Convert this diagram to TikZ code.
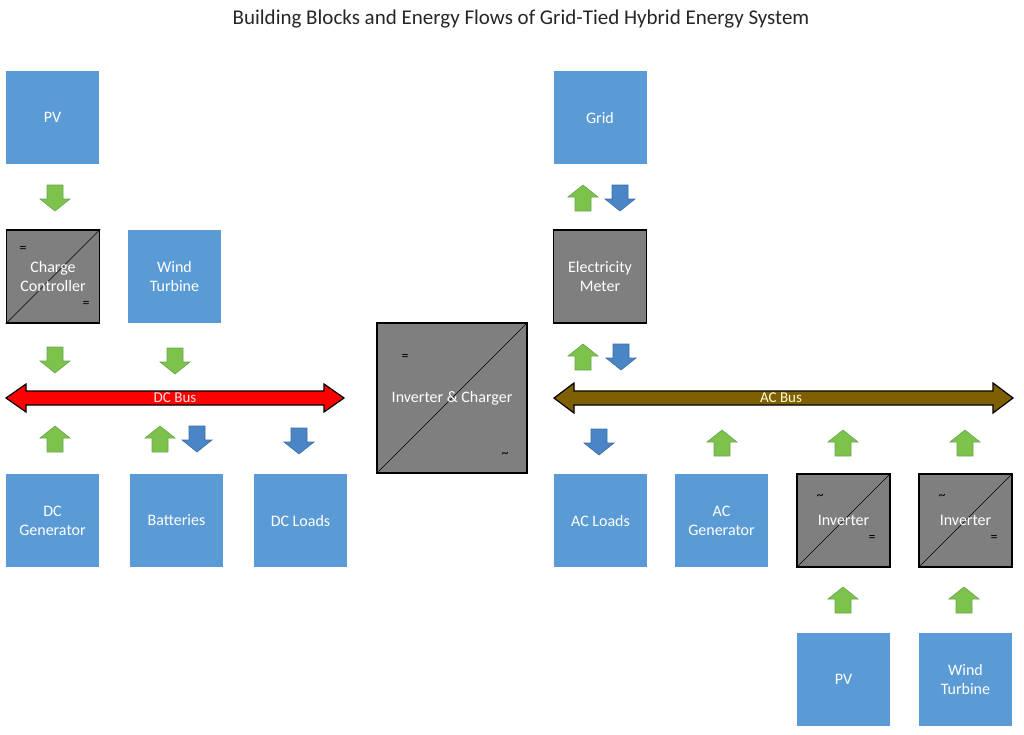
\documentclass[tikz,border=0pt]{standalone}
\usepackage{fontspec}
\setmainfont{Carlito}
\definecolor{boxblue}{HTML}{5B9BD5}
\definecolor{arrgreen}{HTML}{7DC24B}
\definecolor{arrgreenD}{HTML}{6AA84F}
\definecolor{arrblue}{HTML}{4A86C5}
\definecolor{arrblueD}{HTML}{3D6FA6}
\definecolor{boxgray}{HTML}{7F7F7F}
\definecolor{acbrown}{HTML}{7F6000}
\newcommand{\flowup}[3]{\filldraw[fill=#3,draw=#3D,line width=0.6pt] (#1-15,#2+12) -- (#1,#2) -- (#1+15,#2+12) -- (#1+8,#2+12) -- (#1+8,#2+26) -- (#1-8,#2+26) -- (#1-8,#2+12) -- cycle;}
\newcommand{\flowdown}[3]{\filldraw[fill=#3,draw=#3D,line width=0.6pt] (#1-15,#2+14) -- (#1,#2+26) -- (#1+15,#2+14) -- (#1+8,#2+14) -- (#1+8,#2) -- (#1-8,#2) -- (#1-8,#2+14) -- cycle;}
\begin{document}
\begin{tikzpicture}[x=1pt,y=-1pt,
  boxfont/.style={font=\fontsize{16}{19}\selectfont},
  bluebox/.style={fill=boxblue,draw=none,minimum width=93pt,minimum height=93pt,inner sep=0pt,text=white,boxfont,align=center},
  graybox/.style={fill=boxgray,draw=black,line width=1.6pt,minimum width=93pt,minimum height=93pt,inner sep=0pt,text=white,boxfont,align=center},
  lbl/.style={text=white,boxfont,align=center,inner sep=0pt},
  sym/.style={text=black,font=\fontsize{14}{14}\selectfont,inner sep=0pt},
  diag/.style={draw=black,line width=0.6pt}]
\useasboundingbox (0,0) rectangle (1024,734);
\fill[white] (0,0) rectangle (1024,734);
\node[font=\fontsize{21}{24}\selectfont,text=black!85] (title) at (521,19) {Building Blocks and Energy Flows of Grid-Tied Hybrid Energy System};

% left side boxes
\node[bluebox] (pv1) at (52.5,117.5) {PV};
\node[graybox] (cc) at (53,276.5) {};
\draw[diag] (cc.south west) -- (cc.north east);
\node[lbl] (cclabel) at (cc.center) {Charge\\Controller};
\node[sym] (cceq1) at (23,249) {=};
\node[sym] (cceq2) at (86,304) {=};
\node[bluebox] (wt1) at (174.5,276.5) {Wind\\Turbine};
\node[bluebox] (dcgen) at (52.5,520.5) {DC\\Generator};
\node[bluebox] (batt) at (176.5,520.5) {Batteries};
\node[bluebox] (dcload) at (300.5,520.5) {DC Loads};

% DC bus
\filldraw[fill=red,draw=black,line width=1.2pt] (6,398) -- (26,384) -- (26,391) -- (324,391) -- (324,384) -- (344,398) -- (324,412) -- (324,405) -- (26,405) -- (26,412) -- cycle;
\node[text=white!90!red,font=\fontsize{15}{16}\selectfont] (dcbus) at (175,398) {DC Bus};

% inverter & charger
\node[graybox,minimum width=150pt,minimum height=150pt] (ic) at (452,398) {};
\draw[diag] (ic.south west) -- (ic.north east);
\node[lbl] (iclabel) at (ic.center) {Inverter \& Charger};
\node[sym] (iceq) at (405,357) {=};
\node[sym] (ictilde) at (505,455) {\char"007E};

% right side
\node[bluebox] (grid) at (600,117.5) {Grid};
\node[graybox] (meter) at (600,276.5) {Electricity\\Meter};
\filldraw[fill=acbrown,draw=black,line width=1.2pt] (554,398) -- (574,383) -- (574,391) -- (993,391) -- (993,383) -- (1013,398) -- (993,413) -- (993,405) -- (574,405) -- (574,413) -- cycle;
\node[text=white!85!yellow,font=\fontsize{15}{16}\selectfont] (acbus) at (781,398) {AC Bus};
\node[bluebox] (acload) at (600.5,520.5) {AC Loads};
\node[bluebox] (acgen) at (721.5,520.5) {AC\\Generator};
\node[graybox] (inv1) at (843.5,520.5) {};
\draw[diag] (inv1.south west) -- (inv1.north east);
\node[lbl] (inv1label) at (inv1.center) {Inverter};
\node[sym] (inv1t) at (820,497) {\char"007E};
\node[sym] (inv1e) at (872,538) {=};
\node[graybox] (inv2) at (965.5,520.5) {};
\draw[diag] (inv2.south west) -- (inv2.north east);
\node[lbl] (inv2label) at (inv2.center) {Inverter};
\node[sym] (inv2t) at (942,497) {\char"007E};
\node[sym] (inv2e) at (994,538) {=};
\node[bluebox] (pv2) at (843.5,679.5) {PV};
\node[bluebox] (wt2) at (965.5,679.5) {Wind\\Turbine};

% flow arrows
\flowdown{55}{185}{arrgreen}
\flowdown{55}{347}{arrgreen}
\flowdown{175}{348}{arrgreen}
\flowup{55}{426}{arrgreen}
\flowup{160}{426}{arrgreen}
\flowdown{197}{426}{arrblue}
\flowdown{299}{428}{arrblue}
\flowup{583}{185}{arrgreen}
\flowdown{620}{185}{arrblue}
\flowup{583}{344}{arrgreen}
\flowdown{621}{344}{arrblue}
\flowdown{599}{429}{arrblue}
\flowup{722}{430}{arrgreen}
\flowup{843}{430}{arrgreen}
\flowup{965}{430}{arrgreen}
\flowup{843}{587}{arrgreen}
\flowup{964}{587}{arrgreen}
\end{tikzpicture}
\end{document}
